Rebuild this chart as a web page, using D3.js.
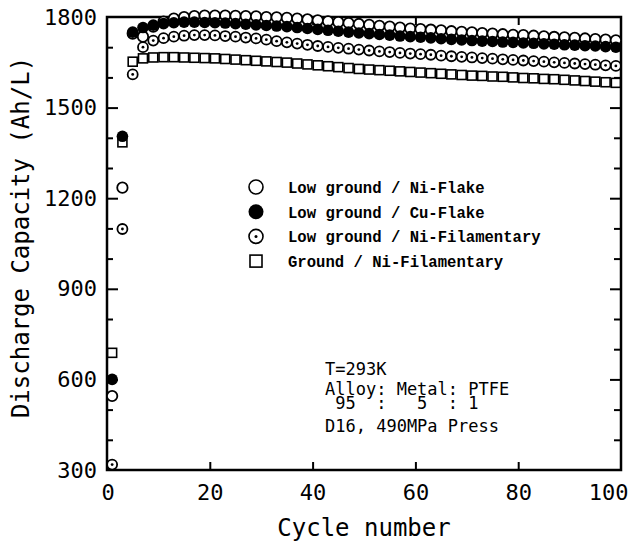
<!DOCTYPE html>
<html>
<head>
<meta charset="utf-8">
<script src="https://cdn.jsdelivr.net/npm/d3@7"></script>
<style>
  body { margin: 0; background: #fff; }
  svg { display: block; }
</style>
</head>
<body>
<div id="chart"></div>
<script>
// cycle numbers where markers were plotted
var cycles = [1,3,5,7,9,11,13,15,17,19,21,23,25,27,29,31,33,35,37,39,41,43,45,47,49,
              51,53,55,57,59,61,63,65,67,69,71,73,75,77,79,81,83,85,87,89,91,93,95,97,99];

// discharge capacity (Ah/L)
var niFlake = [545,1235,1745,1735,1768,1785,1795,1800,1803,1805,1805,1805,1804,1803,1802,1800,1799,1797,1795,1792,
               1789,1786,1783,1780,1777,1774,1771,1768,1765,1762,1760,1758,1756,1753,1751,1749,1747,1745,1743,1741,
               1740,1738,1736,1734,1733,1731,1729,1727,1725,1723];
var cuFlake = [600,1405,1750,1765,1773,1778,1781,1783,1783,1782,1781,1780,1778,1776,1774,1772,1770,1768,1765,1762,
               1759,1756,1753,1750,1747,1745,1742,1740,1737,1735,1733,1731,1728,1726,1724,1722,1720,1719,1717,1716,
               1714,1713,1711,1710,1708,1707,1705,1704,1702,1700];
var niFil = [318,1098,1610,1700,1722,1730,1735,1738,1740,1740,1739,1737,1735,1732,1729,1725,1720,1716,1712,1708,
             1704,1701,1698,1695,1692,1689,1686,1684,1681,1679,1677,1675,1672,1670,1668,1666,1664,1662,1660,1658,
             1656,1654,1652,1650,1648,1646,1644,1642,1640,1638];
var groundNiFil = [688,1385,1652,1663,1666,1667,1667,1666,1665,1664,1663,1661,1659,1657,1655,1653,1651,1649,1646,1643,
                   1640,1637,1634,1631,1628,1626,1624,1622,1620,1618,1616,1614,1612,1610,1608,1606,1605,1603,1602,1600,
                   1598,1597,1595,1594,1592,1590,1588,1586,1584,1582];

var legendLabels = ["Low ground / Ni-Flake", "Low ground / Cu-Flake",
                    "Low ground / Ni-Filamentary", "Ground / Ni-Filamentary"];
var xTicks = [0, 20, 40, 60, 80, 100];
var yTicks = [300, 600, 900, 1200, 1500, 1800];
var yMinor = [400, 500, 700, 800, 1000, 1100, 1300, 1400, 1600, 1700];
var notes = ["T=293K", "Alloy: Metal: PTFE", " 95  :   5  : 1", "D16, 490MPa Press"];

var margin = {top: 17, right: 9, bottom: 74, left: 107},
    width = 630 - margin.left - margin.right,
    height = 544 - margin.top - margin.bottom;

var x = d3.scaleLinear().domain([0, 100]).range([0, width]);
var y = d3.scaleLinear().domain([300, 1800]).range([height, 0]);

var tickFont = "'DejaVu Sans Mono', monospace";

var svg = d3.select("#chart")
  .append("svg")
    .attr("width", 630)
    .attr("height", 544)
  .append("g")
    .attr("transform", "translate(" + margin.left + "," + margin.top + ")");

// frame
svg.append("rect")
  .attr("x", 0).attr("y", 0)
  .attr("width", width).attr("height", height)
  .attr("fill", "none")
  .attr("stroke", "#000")
  .attr("stroke-width", 2.5);

var innerX = xTicks.slice(1, -1);
var innerY = yTicks.slice(1, -1);

// tick marks pointing inward on all four sides
function ticks(g) {
  g.select(".domain").remove();
  g.selectAll(".tick line").attr("stroke", "#000").attr("stroke-width", 2);
}
svg.append("g").attr("transform", "translate(0," + height + ")")
  .call(d3.axisBottom(x).tickValues(innerX).tickSize(-8).tickFormat("")).call(ticks);
svg.append("g")
  .call(d3.axisTop(x).tickValues(innerX).tickSize(-8).tickFormat("")).call(ticks);
svg.append("g")
  .call(d3.axisLeft(y).tickValues(innerY).tickSize(-11).tickFormat("")).call(ticks);
svg.append("g")
  .call(d3.axisLeft(y).tickValues(yMinor).tickSize(-6).tickFormat("")).call(ticks);
svg.append("g").attr("transform", "translate(" + width + ",0)")
  .call(d3.axisRight(y).tickValues(innerY).tickSize(-11).tickFormat("")).call(ticks);
svg.append("g").attr("transform", "translate(" + width + ",0)")
  .call(d3.axisRight(y).tickValues(yMinor).tickSize(-7).tickFormat("")).call(ticks);

// tick labels
var xAxis = svg.append("g")
  .attr("transform", "translate(0," + height + ")")
  .call(d3.axisBottom(x).tickValues(xTicks).tickSize(0).tickPadding(14).tickFormat(d3.format("d")));
xAxis.select(".domain").remove();
xAxis.selectAll(".tick text")
  .attr("text-anchor", function(d){ return d == 100 ? "end" : (d == 0 ? "start" : "middle"); })
  .attr("dx", function(d){ return d == 100 ? 7 : (d == 0 ? -6 : 0); });

var yAxis = svg.append("g")
  .call(d3.axisLeft(y).tickValues(yTicks).tickSize(0).tickPadding(10).tickFormat(d3.format("d")));
yAxis.select(".domain").remove();

svg.selectAll(".tick text")
  .attr("font-family", tickFont)
  .attr("font-size", 22)
  .attr("fill", "#000");

// axis titles
svg.append("text")
  .attr("text-anchor", "middle")
  .attr("x", width / 2)
  .attr("y", height + 66)
  .attr("font-family", tickFont)
  .attr("font-size", 24)
  .text("Cycle number");

svg.append("text")
  .attr("text-anchor", "middle")
  .attr("transform", "translate(" + (-78) + "," + (height / 2 - 6) + ") rotate(-90)")
  .attr("font-family", tickFont)
  .attr("font-size", 24)
  .text("Discharge Capacity (Ah/L)");

function pts(vals) {
  return cycles.map(function(c, i){ return {c: c, v: vals[i]}; });
}

// Ground / Ni-Filamentary : squares
svg.selectAll(".sq")
  .data(pts(groundNiFil))
  .enter()
  .append("rect")
    .attr("class", "sq")
    .attr("x", function(d){ return x(d.c) - 4.5; })
    .attr("y", function(d){ return y(d.v) - 4.5; })
    .attr("width", 9).attr("height", 9)
    .attr("fill", "#fff")
    .attr("stroke", "#000")
    .attr("stroke-width", 1.6);

// Low ground / Ni-Filamentary : dotted circles
var dotted = svg.selectAll(".dc")
  .data(pts(niFil))
  .enter()
  .append("g")
    .attr("class", "dc")
    .attr("transform", function(d){ return "translate(" + x(d.c) + "," + y(d.v) + ")"; });
dotted.append("circle").attr("r", 5).attr("fill", "#fff").attr("stroke", "#000").attr("stroke-width", 1.8);
dotted.append("circle").attr("r", 1.4).attr("fill", "#000");

// Low ground / Ni-Flake : open circles
svg.selectAll(".oc")
  .data(pts(niFlake))
  .enter()
  .append("circle")
    .attr("class", "oc")
    .attr("cx", function(d){ return x(d.c); })
    .attr("cy", function(d){ return y(d.v); })
    .attr("r", 5.2)
    .attr("fill", "#fff")
    .attr("stroke", "#000")
    .attr("stroke-width", 1.8);

// Low ground / Cu-Flake : filled circles
svg.selectAll(".fc")
  .data(pts(cuFlake))
  .enter()
  .append("circle")
    .attr("class", "fc")
    .attr("cx", function(d){ return x(d.c); })
    .attr("cy", function(d){ return y(d.v); })
    .attr("r", 5.8)
    .attr("fill", "#000");

// legend
var legend = svg.append("g").attr("transform", "translate(" + (256 - margin.left) + "," + (187 - margin.top) + ")");
var rowH = 24.7;
legend.append("circle").attr("cx", 0).attr("cy", 0).attr("r", 7)
  .attr("fill", "none").attr("stroke", "#000").attr("stroke-width", 1.6);
legend.append("circle").attr("cx", 0).attr("cy", rowH).attr("r", 7.5).attr("fill", "#000");
legend.append("circle").attr("cx", 0).attr("cy", rowH * 2).attr("r", 7)
  .attr("fill", "none").attr("stroke", "#000").attr("stroke-width", 1.6);
legend.append("circle").attr("cx", 0).attr("cy", rowH * 2).attr("r", 1.5).attr("fill", "#000");
legend.append("rect").attr("x", -6).attr("y", rowH * 3 - 6).attr("width", 12).attr("height", 12)
  .attr("fill", "none").attr("stroke", "#000").attr("stroke-width", 1.6);

legend.selectAll(".lab")
  .data(legendLabels)
  .enter()
  .append("text")
    .attr("class", "lab")
    .attr("x", 32)
    .attr("y", function(d, i){ return i * rowH + 6; })
    .attr("font-family", "'Liberation Mono', monospace")
    .attr("font-size", 15.6)
    .attr("font-weight", "bold")
    .text(function(d){ return d; });

// notes (spaces kept with no-break spaces)
var noteY = [375, 395, 409, 432];
svg.append("g")
  .selectAll("text")
  .data(notes)
  .enter()
  .append("text")
    .attr("x", 325 - margin.left)
    .attr("y", function(d, i){ return noteY[i] - margin.top; })
    .attr("font-family", tickFont)
    .attr("font-size", 17)
    .text(function(d){ return d.replace(/ /g, "\u00a0"); });
</script>
</body>
</html>
